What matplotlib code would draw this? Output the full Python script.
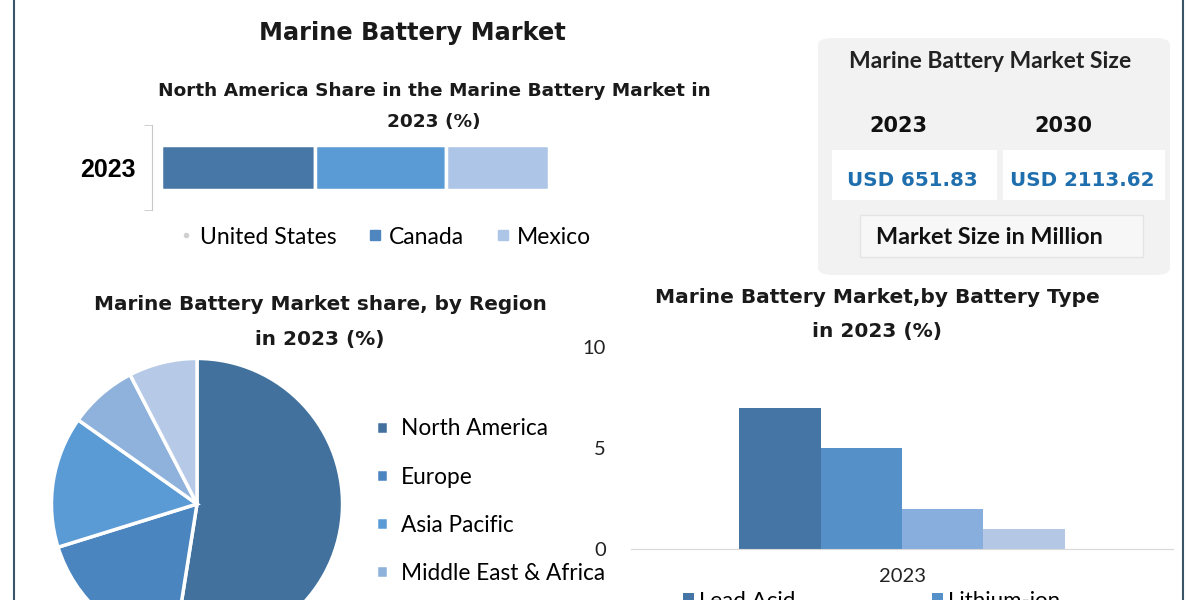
import numpy as np
import matplotlib.pyplot as plt
from matplotlib.patches import FancyBboxPatch, Rectangle
from matplotlib.lines import Line2D

# --- data ---
na_countries = ['United States', 'Canada', 'Mexico']
na_share = [39.6, 33.9, 26.5]

regions = ['North America', 'Europe', 'Asia Pacific', 'Middle East & Africa', 'South America']
region_share = [52.5, 17.7, 14.6, 7.6, 7.6]

battery_types = ['Lead Acid', 'Lithium-ion', 'Nickel Cadmium', 'Others']
battery_share = [7, 5, 2, 1]

size_years = ['2023', '2030']
size_values = ['USD 651.83', 'USD 2113.62']

W, H = 1200, 600


def box(x0, y0, x1, y1):
    # pixel box (top-left origin) -> figure fraction rect
    return [x0 / W, 1 - y1 / H, (x1 - x0) / W, (y1 - y0) / H]


def fx(x):
    return x / W


def fy(y):
    return 1 - y / H


fig = plt.figure(figsize=(12, 6), dpi=100)
fig.patch.set_facecolor('white')

title_font = 'DejaVu Sans'
body_font = 'Lato'

# outer border lines
fig.add_artist(Line2D([fx(14), fx(14)], [0, 1], color='#3b5568', lw=1.5))
fig.add_artist(Line2D([fx(1183), fx(1183)], [0, 1], color='#3b5568', lw=1.5))

# main title
fig.text(fx(412), fy(33), 'Marine Battery Market', ha='center', va='center',
         fontsize=17.3, fontweight='bold', family=title_font, color='#1a1a1a')

# --- North America stacked bar ---
fig.text(fx(434), fy(91), 'North America Share in the Marine Battery Market in',
         ha='center', va='center', fontsize=13.3, fontweight='bold', family=title_font, color='#1a1a1a')
fig.text(fx(434), fy(122), '2023 (%)', ha='center', va='center',
         fontsize=13.3, fontweight='bold', family=title_font, color='#1a1a1a')

ax1 = fig.add_axes(box(152, 125, 549, 210))
na_colors = ['#4677a6', '#5b9bd5', '#adc5e6']
left = 0
for name, val, c in zip(na_countries, na_share, na_colors):
    ax1.barh([0], [val], left=left, height=0.53, color=c, edgecolor='white', linewidth=2.5)
    left += val
ax1.set_xlim(-2.3, 100)
ax1.set_ylim(-0.5, 0.5)
for s in ['top', 'right', 'bottom']:
    ax1.spines[s].set_visible(False)
ax1.spines['left'].set_color('#c8c8c8')
ax1.set_xticks([])
ax1.set_yticks([0])
ax1.set_yticklabels(['2023'], fontsize=18, fontweight='bold', family='Liberation Sans')
ax1.tick_params(axis='y', length=0, pad=12)
ax1.set_yticks([-0.5, 0.5], minor=True)
ax1.tick_params(axis='y', which='minor', length=6, color='#c8c8c8')

na_handles = [Line2D([], [], marker='o', ls='', ms=3, color='#d0d0d0'),
              Line2D([], [], marker='s', ls='', ms=7, color='#4f86bf'),
              Line2D([], [], marker='s', ls='', ms=7, color='#adc5e6')]
fig.legend(na_handles, na_countries, loc='center', bbox_to_anchor=(fx(384), fy(237)),
           ncol=3, frameon=False, prop={'family': body_font, 'size': 16.5},
           handletextpad=0.2, columnspacing=1.3, handlelength=0.8)

# --- market size panel ---
fig.add_artist(FancyBboxPatch((fx(818), fy(275)), fx(1170) - fx(818), fy(38) - fy(275),
                              boxstyle='round,pad=0,rounding_size=0.012',
                              transform=fig.transFigure, facecolor='#f2f2f2', edgecolor='none'))
fig.text(fx(990), fy(61), 'Marine Battery Market Size', ha='center', va='center',
         fontsize=16.5, fontweight='bold', family=body_font, color='#222222')
year_x = [898, 1063]
for x, yr in zip(year_x, size_years):
    fig.text(fx(x), fy(126), yr, ha='center', va='center',
             fontsize=15, fontweight='bold', family=title_font, color='#111111')
val_boxes = [(832, 997), (1003, 1165)]
for (x0, x1), v in zip(val_boxes, size_values):
    fig.add_artist(Rectangle((fx(x0), fy(200)), fx(x1) - fx(x0), fy(150) - fy(200),
                             transform=fig.transFigure, facecolor='white', edgecolor='none'))
    fig.text(fx((x0 + x1) / 2 - 2), fy(180), v, ha='center', va='center',
             fontsize=14.3, fontweight='bold', family=title_font, color='#1f6fae')
fig.add_artist(Rectangle((fx(860), fy(257)), fx(1143) - fx(860), fy(215) - fy(257),
                         transform=fig.transFigure, facecolor='#f7f7f7', edgecolor='#e4e4e4', lw=1))
fig.text(fx(989), fy(237), 'Market Size in Million', ha='center', va='center',
         fontsize=16.8, fontweight='bold', family=body_font, color='#111111')

# --- region pie ---
fig.text(fx(320), fy(305), 'Marine Battery Market share, by Region', ha='center', va='center',
         fontsize=14.4, fontweight='bold', family=title_font, color='#1a1a1a')
fig.text(fx(320), fy(340), 'in 2023 (%)', ha='center', va='center',
         fontsize=14.4, fontweight='bold', family=title_font, color='#1a1a1a')

ax2 = fig.add_axes(box(50, 357, 344, 651))
pie_colors = ['#41719c', '#4a85bf', '#5b9bd5', '#8eb2dc', '#b6c9e6']
wedges, _ = ax2.pie(region_share, colors=pie_colors, startangle=90, counterclock=False,
                    wedgeprops={'edgecolor': 'white', 'linewidth': 2.5})
ax2.set_xlim(-1.01, 1.01)
ax2.set_ylim(-1.01, 1.01)
ax2.set_aspect('equal')
fig.legend(wedges, regions, loc='upper left', bbox_to_anchor=(fx(356), fy(398)),
           frameon=False, prop={'family': body_font, 'size': 16.3},
           handlelength=0.5, handleheight=0.5, handletextpad=0.6, labelspacing=1.2)

# --- battery type bars ---
fig.text(fx(877), fy(298), 'Marine Battery Market,by Battery Type', ha='center', va='center',
         fontsize=14.5, fontweight='bold', family=title_font, color='#1a1a1a')
fig.text(fx(877), fy(332), 'in 2023 (%)', ha='center', va='center',
         fontsize=14.5, fontweight='bold', family=title_font, color='#1a1a1a')

ax3 = fig.add_axes(box(631, 347, 1173, 549))
bar_colors = ['#4575a5', '#5590c9', '#87aedc', '#b4c8e6']
bw = 0.15
offsets = (np.arange(len(battery_types)) - 1.5) * bw
bar_handles = []
for off, val, c, name in zip(offsets, battery_share, bar_colors, battery_types):
    bar_handles.append(ax3.bar(off, val, width=bw, color=c, label=name))
ax3.set_xlim(-0.5, 0.5)
ax3.set_ylim(0, 10)
ax3.set_yticks([0, 5, 10])
ax3.set_xticks([0])
ax3.set_xticklabels(['2023'])
for s in ['top', 'right', 'left']:
    ax3.spines[s].set_visible(False)
ax3.spines['bottom'].set_color('#d9d9d9')
ax3.tick_params(axis='y', length=0, pad=18, labelsize=14.5, labelcolor='#222222')
ax3.tick_params(axis='x', length=0, pad=14, labelsize=14.5, labelcolor='#222222')
for lbl in ax3.get_xticklabels() + ax3.get_yticklabels():
    lbl.set_family(body_font)
# legend laid out row by row: Lead Acid | Lithium-ion on the first row
order = [0, 2, 1, 3]
fig.legend([bar_handles[i] for i in order], [battery_types[i] for i in order],
           loc='upper left', bbox_to_anchor=(fx(683), fy(591)),
           ncol=2, frameon=False, prop={'family': body_font, 'size': 16},
           handlelength=0.5, handleheight=0.5, handletextpad=0.2, columnspacing=3.3,
           borderaxespad=0, borderpad=0)

fig.savefig('out.png', dpi=100, facecolor='white')
